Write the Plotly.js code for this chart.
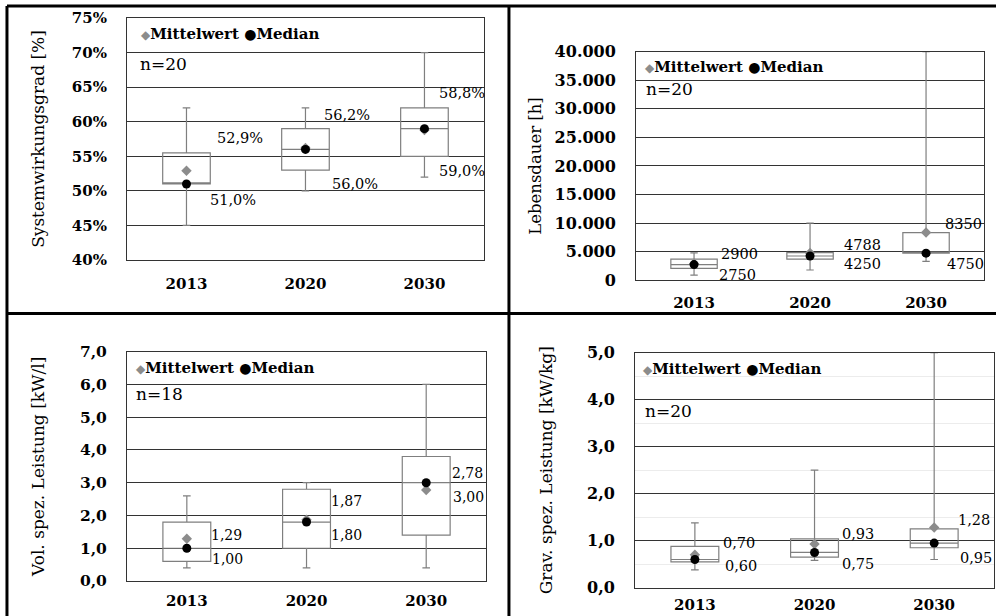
<!DOCTYPE html>
<html>
<head>
<meta charset="utf-8">
<script src="https://cdn.plot.ly/plotly-3.0.1.min.js"></script>
<style>html,body{margin:0;padding:0;background:#fff;}#chart{width:996px;height:616px;}</style>
</head>
<body>
<div id="chart"></div>
<script>
// ---------- data ----------
const years = ['2013', '2020', '2030'];

// Systemwirkungsgrad [%]  (n=20)
const effLow    = [45, 50, 52];
const effQ1     = [51, 53, 55];
const effMedian = [51, 56, 59];
const effQ3     = [55.5, 59, 62];
const effHigh   = [62, 62, 70];
const effMean   = [52.9, 56.2, 58.8];

// Lebensdauer [h]  (n=20)
const lifeLow    = [900, 1800, 3300];
const lifeQ1     = [2100, 3700, 4750];
const lifeMedian = [2750, 4250, 4750];
const lifeQ3     = [3700, 4850, 8350];
const lifeHigh   = [4800, 10000, 40000];
const lifeMean   = [2900, 4788, 8350];

// Vol. spez. Leistung [kW/l]  (n=18)
const volLow    = [0.4, 0.4, 0.4];
const volQ1     = [0.6, 1.0, 1.4];
const volMedian = [1.0, 1.8, 3.0];
const volQ3     = [1.8, 2.8, 3.8];
const volHigh   = [2.6, 3.0, 6.0];
const volMean   = [1.29, 1.87, 2.78];

// Grav. spez. Leistung [kW/kg]  (n=20)
const gravLow    = [0.38, 0.58, 0.6];
const gravQ1     = [0.55, 0.65, 0.85];
const gravMedian = [0.60, 0.75, 0.95];
const gravQ3     = [0.88, 1.04, 1.25];
const gravHigh   = [1.38, 2.5, 5.0];
const gravMean   = [0.70, 0.93, 1.28];

const sampleSizes = ['n=20', 'n=20', 'n=18', 'n=20'];
const legendMean = 'Mittelwert';
const legendMedian = 'Median';

// ---------- styling ----------
const FONT = 'DejaVu Serif';
const boxColor = '#7f7f7f';
const meanColor = '#8c8c8c';
const medianColor = '#000000';

const panels = [
  {ax: '', low: effLow, q1: effQ1, med: effMedian, q3: effQ3, high: effHigh, mean: effMean,
   fmt: v => v.toFixed(1).replace('.', ',') + '%',
   meanShift: [[54, 33], [42, 33], [38, 37]], medShift: [[47, -16], [50, -35], [38, -42]], lblSize: 14.5},
  {ax: '2', low: lifeLow, q1: lifeQ1, med: lifeMedian, q3: lifeQ3, high: lifeHigh, mean: lifeMean,
   fmt: v => String(Math.round(v)),
   meanShift: [[45, 10], [52, 8], [37, 9]], medShift: [[43, -10], [52, -8], [39, -11]], lblSize: 14.5},
  {ax: '3', low: volLow, q1: volQ1, med: volMedian, q3: volQ3, high: volHigh, mean: volMean,
   fmt: v => v.toFixed(2).replace('.', ','),
   meanShift: [[40, 4], [40, 19], [41, 17]], medShift: [[41, -11], [40, -13], [42, -14]], lblSize: 14},
  {ax: '4', low: gravLow, q1: gravQ1, med: gravMedian, q3: gravQ3, high: gravHigh, mean: gravMean,
   fmt: v => v.toFixed(2).replace('.', ','),
   meanShift: [[44, 12], [43, 10], [40, 8]], medShift: [[46, -6], [43, -12], [42, -15]], lblSize: 14.5}
];

const traces = [];
const annotations = [];

panels.forEach((p, i) => {
  const xa = 'x' + p.ax, ya = 'y' + p.ax;
  traces.push({
    type: 'box', x: years, q1: p.q1, median: p.med, q3: p.q3,
    lowerfence: p.low, upperfence: p.high,
    xaxis: xa, yaxis: ya, width: 0.4, whiskerwidth: 0.16,
    line: {color: boxColor, width: 1.2}, fillcolor: 'rgba(255,255,255,0)',
    boxpoints: false, showlegend: false, hoverinfo: 'skip'
  });
  traces.push({
    type: 'scatter', mode: 'markers', x: years, y: p.mean, xaxis: xa, yaxis: ya,
    name: legendMean, marker: {symbol: 'diamond', size: 8, color: meanColor}, showlegend: false
  });
  traces.push({
    type: 'scatter', mode: 'markers', x: years, y: p.med, xaxis: xa, yaxis: ya,
    name: legendMedian, marker: {symbol: 'circle', size: 9, color: medianColor}, showlegend: false
  });
  // value labels (category axis: position = category index)
  years.forEach((yr, j) => {
    annotations.push({xref: xa, yref: ya, x: j, y: p.mean[j], text: p.fmt(p.mean[j]),
      xshift: p.meanShift[j][0], yshift: p.meanShift[j][1], showarrow: false,
      font: {family: FONT, size: p.lblSize, color: '#000'}});
    annotations.push({xref: xa, yref: ya, x: j, y: p.med[j], text: p.fmt(p.med[j]),
      xshift: p.medShift[j][0], yshift: p.medShift[j][1], showarrow: false,
      font: {family: FONT, size: p.lblSize, color: '#000'}});
  });
});

// legend text + n= inside each plot
const legPos = [[0.033, 0.934, 0.031, 0.81], [0.020, 0.933, 0.023, 0.837],
                [0.019, 0.930, 0.0195, 0.8155], [0.017, 0.932, 0.022, 0.752]];
['', '2', '3', '4'].forEach((s, i) => {
  annotations.push({xref: 'x' + s + ' domain', yref: 'y' + s + ' domain',
    x: legPos[i][0], y: legPos[i][1], xanchor: 'left', yanchor: 'middle', showarrow: false,
    text: '<span style="color:' + meanColor + ';font-size:12px">◆</span>' + legendMean +
          ' <span style="font-size:14px">●</span>' + legendMedian,
    font: {family: FONT, size: 15, color: '#000', weight: 'bold'}});
  annotations.push({xref: 'x' + s + ' domain', yref: 'y' + s + ' domain',
    x: legPos[i][2], y: legPos[i][3], xanchor: 'left', yanchor: 'middle', showarrow: false,
    text: sampleSizes[i], font: {family: FONT, size: 17, color: '#000'}});
});

function tf(size) { return {family: FONT, size: size, color: '#000', weight: 'bold'}; }
function xAxis(domain, anchor, standoff) {
  return {domain: domain, anchor: anchor, type: 'category', range: [-0.5, 2.5],
    showline: true, mirror: true, linecolor: '#333', linewidth: 1,
    ticks: '', ticklabelstandoff: standoff, tickfont: tf(15), showgrid: false, fixedrange: true};
}
function yAxis(domain, anchor, extra) {
  return Object.assign({domain: domain, anchor: anchor,
    showline: true, mirror: true, linecolor: '#333', linewidth: 1,
    gridcolor: '#333', gridwidth: 1, zeroline: false,
    ticks: '', ticklabelstandoff: 16, tickfont: tf(15), fixedrange: true}, extra);
}

const layout = {
  width: 996, height: 616,
  margin: {l: 0, r: 0, t: 0, b: 0},
  paper_bgcolor: '#fff', plot_bgcolor: '#fff',
  separators: ',.',
  showlegend: false,
  font: {family: FONT, color: '#000'},
  xaxis: xAxis([0.1275, 0.4859], 'y', 10),
  yaxis: yAxis([0.5779, 0.9708], 'x', {range: [40, 75], dtick: 5, ticksuffix: '%',
    title: {text: 'Systemwirkungsgrad [%]', font: {family: FONT, size: 17}, standoff: 22}}),
  xaxis2: xAxis([0.6386, 0.9880], 'y2', 9),
  yaxis2: yAxis([0.5450, 0.9161], 'x2', {range: [0, 40000], dtick: 5000, tickformat: ',d',
    tickfont: tf(16),
    title: {text: 'Lebensdauer [h]', font: {family: FONT, size: 16.5}, standoff: 8}}),
  xaxis3: xAxis([0.1275, 0.4880], 'y3', 6),
  yaxis3: yAxis([0.0568, 0.4291], 'x3', {range: [0, 7], dtick: 1, tickformat: '.1f',
    tickfont: tf(15.5),
    title: {text: 'Vol. spez. Leistung [kW/l]', font: {family: FONT, size: 17}, standoff: 30}}),
  xaxis4: xAxis([0.6376, 0.9980], 'y4', 3),
  yaxis4: yAxis([0.0459, 0.4274], 'x4', {range: [0, 5], dtick: 1, tickformat: '.1f',
    tickfont: tf(16),
    minor: {dtick: 0.5, showgrid: true, gridcolor: '#ececec', gridwidth: 1},
    title: {text: 'Grav. spez. Leistung [kW/kg]', font: {family: FONT, size: 17}, standoff: 30}}),
  annotations: annotations,
  shapes: [
    {type: 'line', xref: 'paper', yref: 'paper', x0: 0.007, x1: 0.007, y0: 0, y1: 0.9903, line: {color: '#000', width: 3}},
    {type: 'line', xref: 'paper', yref: 'paper', x0: 0.007, x1: 1, y0: 0.9903, y1: 0.9903, line: {color: '#000', width: 3}},
    {type: 'line', xref: 'paper', yref: 'paper', x0: 0.511, x1: 0.511, y0: 0, y1: 0.9903, line: {color: '#000', width: 3}},
    {type: 'line', xref: 'paper', yref: 'paper', x0: 0.007, x1: 1, y0: 0.4911, y1: 0.4911, line: {color: '#000', width: 3}}
  ]
};

Plotly.newPlot('chart', traces, layout, {displayModeBar: false, staticPlot: true});
</script>
</body>
</html>
